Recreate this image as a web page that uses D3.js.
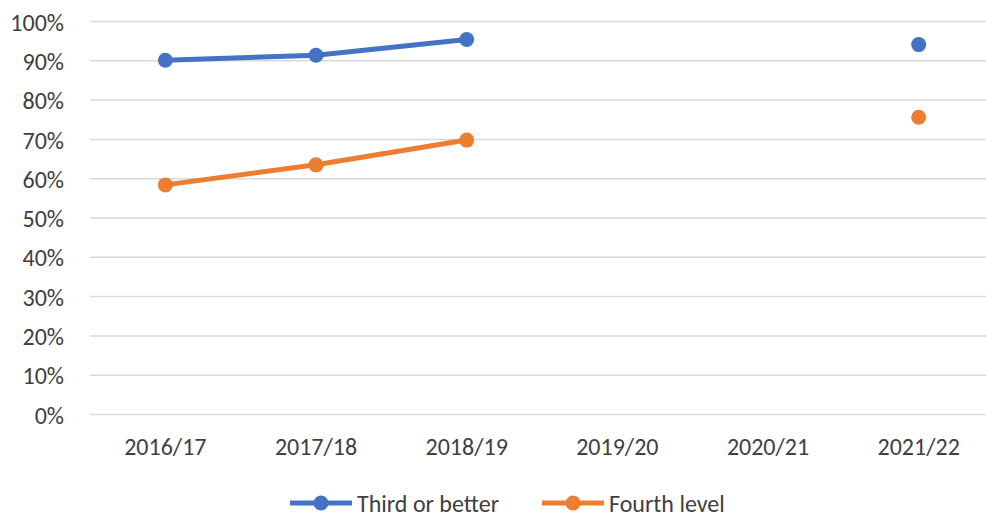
<!DOCTYPE html>
<html>
<head>
<meta charset="utf-8">
<script src="https://cdn.jsdelivr.net/npm/d3@7"></script>
<style>
  body { margin: 0; background: #fff; }
  text { font-family: Calibri, Carlito, "Open Sans", sans-serif; fill: #404040; }
</style>
</head>
<body>
<div id="chart"></div>
<script type="text/javascript">
// chart data
var years = ["2016/17", "2017/18", "2018/19", "2019/20", "2020/21", "2021/22"];
var thirdOrBetter = [0.900, 0.913, 0.953, null, null, 0.940];
var fourthLevel = [0.583, 0.634, 0.697, null, null, 0.755];
var seriesNames = ["Third or better", "Fourth level"];
var seriesColors = ["#4472c4", "#ed7d31"];
var yTicks = [0, 0.1, 0.2, 0.3, 0.4, 0.5, 0.6, 0.7, 0.8, 0.9, 1.0];

var margin = {top: 21, right: -8, bottom: 103, left: 90},
    width = 986 - margin.left - margin.right,
    height = 517 - margin.top - margin.bottom;

var svg = d3.select("#chart").append("svg")
    .attr("width", 986)
    .attr("height", 517)
  .append("g")
    .attr("transform", "translate(" + margin.left + "," + margin.top + ")");

var x = d3.scaleBand().domain(years).range([0, width]);
var y = d3.scaleLinear().domain([0, 1]).range([height, 0]);

// gridlines
svg.append("g")
    .call(d3.axisLeft(y).tickValues(yTicks).tickSize(-width).tickFormat(""))
    .call(function(g) { g.select(".domain").remove(); })
    .selectAll("line")
    .attr("stroke", "#d9d9d9")
    .attr("stroke-width", 1.5);

// y labels
var yAxis = svg.append("g")
    .call(d3.axisLeft(y).tickValues(yTicks).tickSize(0).tickPadding(26).tickFormat(d3.format(".0%")));
yAxis.select(".domain").remove();
yAxis.selectAll("text")
    .style("font-size", "24px")
    .attr("dy", "0.38em");

// x labels
var xAxis = svg.append("g")
    .attr("transform", "translate(0," + height + ")")
    .call(d3.axisBottom(x).tickSize(0).tickPadding(24));
xAxis.select(".domain").remove();
xAxis.selectAll("text")
    .style("font-size", "24px");

[thirdOrBetter, fourthLevel].forEach(function(values, k) {
  var line = d3.line()
      .defined(function(d) { return d != null; })
      .x(function(d, i) { return x(years[i]) + x.bandwidth() / 2; })
      .y(function(d) { return y(d); });

  svg.append("path")
      .datum(values)
      .attr("fill", "none")
      .attr("stroke", seriesColors[k])
      .attr("stroke-width", 5)
      .attr("stroke-linejoin", "round")
      .attr("d", line);

  svg.append("g").selectAll("circle")
      .data(values.map(function(d, i) { return {v: d, i: i}; }).filter(function(d) { return d.v != null; }))
    .enter().append("circle")
      .attr("cx", function(d) { return x(years[d.i]) + x.bandwidth() / 2; })
      .attr("cy", function(d) { return y(d.v); })
      .attr("r", 7.5)
      .attr("fill", seriesColors[k]);
});

// legend
var legendX = [290, 542];
var legend = d3.select("svg").append("g");
seriesNames.forEach(function(name, k) {
  var g = legend.append("g").attr("transform", "translate(" + legendX[k] + ",503)");
  g.append("line")
      .attr("x1", 0).attr("x2", 62)
      .attr("stroke", seriesColors[k])
      .attr("stroke-width", 5);
  g.append("circle")
      .attr("cx", 31).attr("r", 7.5)
      .attr("fill", seriesColors[k]);
  g.append("text")
      .attr("x", 67)
      .attr("dy", "0.38em")
      .style("font-size", "24px")
      .text(name);
});
</script>
</body>
</html>
